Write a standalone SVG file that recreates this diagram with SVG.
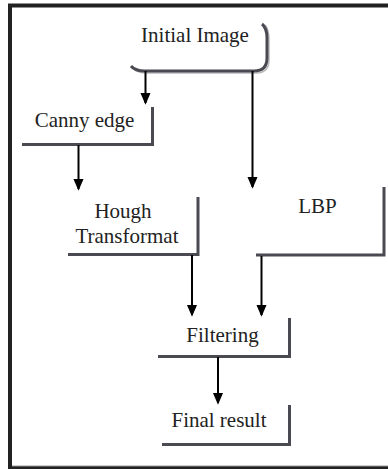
<svg xmlns="http://www.w3.org/2000/svg" width="388" height="469" viewBox="0 0 388 469">
<defs>
<marker id="ah" markerWidth="12" markerHeight="14" refX="12" refY="6" orient="auto" markerUnits="userSpaceOnUse" viewBox="0 0 14 12">
<path d="M0,0 L14,6 L0,12 Z" fill="#000"/>
</marker>
<style>
text{font-family:'Liberation Serif',Tinos,'Times New Roman','DejaVu Serif',serif;font-size:21px;fill:#222;text-anchor:middle}
.b{fill:none;stroke:#4a4a52;stroke-width:3}
.s{fill:none;stroke:#b8b8bc;stroke-width:1.5}
.c{fill:none;stroke:#000;stroke-width:2}
</style>
</defs>
<rect width="388" height="469" fill="#fff"/>
<path d="M10,469 L10,5.5 L388,5.5" fill="none" stroke="#222" stroke-width="4"/>
<line x1="12" y1="465.5" x2="388" y2="465.5" stroke="#ccc" stroke-width="1"/>
<line x1="8" y1="467.8" x2="388" y2="467.8" stroke="#222" stroke-width="3"/>
<g id="initial">
<path class="s" d="M265,25 Q269,29 269,40 L269,60 Q269,73 256,73 L146,73 Q136,73 133,67"/>
<path class="b" d="M262,24 Q267,28 267,38 L267,58 Q267,71 254,71 L145,71 Q135,71 131,66"/>
<text x="195" y="42">Initial Image</text>
</g>
<g id="canny">
<path class="b" d="M22,144.5 L152.5,144.5 L152.5,107"/>
<text x="84.5" y="127">Canny edge</text>
</g>
<g id="hough">
<path class="b" d="M68,254.5 L198,254.5 L198,197"/>
<text x="123" y="218">Hough</text>
<text x="127" y="243">Transformat</text>
</g>
<g id="lbp">
<path class="b" d="M256,255 L384,255 L384,187"/>
<text x="317.5" y="213">LBP</text>
</g>
<g id="filtering">
<path class="b" d="M158,356.5 L289.5,356.5 L289.5,318"/>
<text x="222.5" y="341.5">Filtering</text>
</g>
<g id="final">
<path class="b" d="M162,444.5 L289.5,444.5 L289.5,405"/>
<text x="219" y="426.5">Final result</text>
</g>
<g id="connectors">
<line class="c" x1="145.5" y1="71" x2="145.5" y2="103" marker-end="url(#ah)"/>
<line class="c" x1="252.5" y1="71" x2="252.5" y2="187" marker-end="url(#ah)"/>
<line class="c" x1="78.5" y1="145" x2="78.5" y2="189" marker-end="url(#ah)"/>
<line class="c" x1="192" y1="255" x2="192" y2="315" marker-end="url(#ah)"/>
<line class="c" x1="261.5" y1="256" x2="261.5" y2="315" marker-end="url(#ah)"/>
<line class="c" x1="218" y1="357" x2="218" y2="403" marker-end="url(#ah)"/>
</g>
</svg>
